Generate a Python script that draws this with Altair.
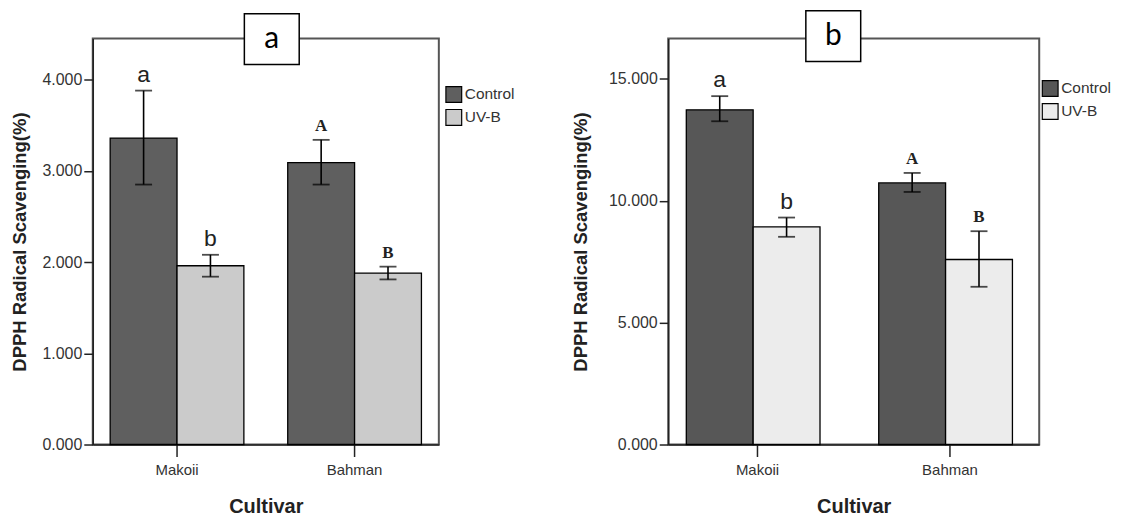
import altair as alt
import pandas as pd

# ---- data ----
cultivars = ["Makoii", "Makoii", "Bahman", "Bahman"]
treatments = ["Control", "UV-B", "Control", "UV-B"]
letters = ["a", "b", "A", "B"]

a_mean = [3.36, 1.96, 3.09, 1.88]
a_low = [2.85, 1.84, 2.85, 1.81]
a_high = [3.88, 2.08, 3.34, 1.95]

b_mean = [13.73, 8.93, 10.73, 7.59]
b_low = [13.26, 8.52, 10.36, 6.47]
b_high = [14.29, 9.31, 11.14, 8.75]

a_ticks = [0, 1, 2, 3, 4]
b_ticks = [0, 5, 10, 15]

cult_order = ["Makoii", "Bahman"]
treat_order = ["Control", "UV-B"]

FONT = "Liberation Sans"


def panel(mean, low, high, ticks, ymax, colors, width, pad_inner, pad_outer,
          tag, legend_x, legend_y, box_x, box_top, box_bottom, ytitle_pad):
    df = pd.DataFrame({"cultivar": cultivars, "treatment": treatments,
                       "mean": mean, "low": low, "high": high, "letter": letters})
    xenc = alt.X("cultivar:N", sort=cult_order,
                 scale=alt.Scale(paddingInner=pad_inner, paddingOuter=pad_outer),
                 axis=alt.Axis(title="Cultivar", labelAngle=0, labelFont=FONT,
                               labelFontSize=15, labelColor="#333",
                               tickSize=12, tickColor="#222", tickWidth=1.5,
                               domainColor="#222", domainWidth=1.5,
                               labelPadding=6, titleFont=FONT, titleFontSize=20,
                               titleFontWeight="bold", titleColor="#222",
                               titlePadding=19))
    xoff = alt.XOffset("treatment:N", sort=treat_order,
                       scale=alt.Scale(paddingInner=0, paddingOuter=0))
    yscale = alt.Scale(domain=[0, ymax], nice=False, zero=True)
    base = alt.Chart(df).encode(x=xenc, xOffset=xoff)

    bars = base.mark_bar(stroke="black", strokeWidth=1.3, opacity=1).encode(
        y=alt.Y("mean:Q", scale=yscale,
                axis=alt.Axis(values=ticks, format=".3f",
                              title="DPPH Radical Scavenging(%)",
                              labelFont=FONT, labelFontSize=16, labelColor="#333",
                              tickSize=9, tickColor="#222", tickWidth=1.5,
                              domainColor="#222", domainWidth=1.5,
                              labelPadding=2, grid=False,
                              titleFont=FONT, titleFontSize=18.5,
                              titleFontWeight="bold", titleColor="#222",
                              titlePadding=ytitle_pad)),
        color=alt.Color("treatment:N", sort=treat_order,
                        scale=alt.Scale(domain=treat_order, range=colors),
                        legend=alt.Legend(title=None, orient="none",
                                          legendX=legend_x, legendY=legend_y,
                                          symbolType="square", symbolSize=250,
                                          symbolStrokeColor="black",
                                          symbolStrokeWidth=1.2,
                                          symbolOpacity=1,
                                          labelFont=FONT, labelFontSize=15.5,
                                          labelColor="#333", rowPadding=1,
                                          labelOffset=2)),
    )
    rule = base.mark_rule(color="black", strokeWidth=1.6).encode(
        y=alt.Y("low:Q", scale=yscale), y2="high:Q")
    cap_lo = base.mark_tick(color="black", size=17, thickness=1.8).encode(
        y=alt.Y("low:Q", scale=yscale))
    cap_hi = base.mark_tick(color="black", size=17, thickness=1.8).encode(
        y=alt.Y("high:Q", scale=yscale))
    lower = base.transform_filter(alt.datum.cultivar == "Makoii").mark_text(
        font="Liberation Sans Narrow, Liberation Sans", fontSize=23,
        baseline="alphabetic", dy=-9, color="#222").encode(
        y=alt.Y("high:Q", scale=yscale), text="letter:N")
    upper = base.transform_filter(alt.datum.cultivar == "Bahman").mark_text(
        font="Liberation Serif", fontSize=17, fontWeight="bold",
        baseline="alphabetic", dy=-9, color="#222").encode(
        y=alt.Y("high:Q", scale=yscale), text="letter:N")

    tagdf = pd.DataFrame({"tag": [tag]})
    box = alt.Chart(tagdf).mark_rect(fill="white", stroke="black",
                                     strokeWidth=1.5).encode(
        x=alt.value(box_x), x2=alt.value(box_x + 55),
        y=alt.value(box_top), y2=alt.value(box_bottom))
    boxtext = alt.Chart(tagdf).mark_text(font="Lato", fontSize=30,
                                         baseline="middle", color="black").encode(
        x=alt.value(box_x + 27.5), y=alt.value((box_top + box_bottom) / 2),
        text="tag:N")

    return alt.layer(bars, rule, cap_lo, cap_hi, lower, upper, box, boxtext).properties(
        width=width, height=407)


left = panel(a_mean, a_low, a_high, a_ticks, 4.45, ["#5f5f5f", "#cbcbcb"],
             347, 0.247, 0.098, "a", 353, 47, 152, -25, 26, 12)
right = panel(b_mean, b_low, b_high, b_ticks, 16.65, ["#575757", "#ececec"],
              372, 0.26, 0.094, "b", 374, 41, 138, -28, 23, 18)

chart = alt.hconcat(left, right, spacing=55).resolve_scale(
    color="independent", y="independent", x="independent"
).properties(
    padding={"left": 1, "top": 0, "right": 5, "bottom": 5}
).configure_view(stroke="#555", strokeWidth=2)

chart.save("out.html", embed_options={"renderer": "svg", "actions": False})
